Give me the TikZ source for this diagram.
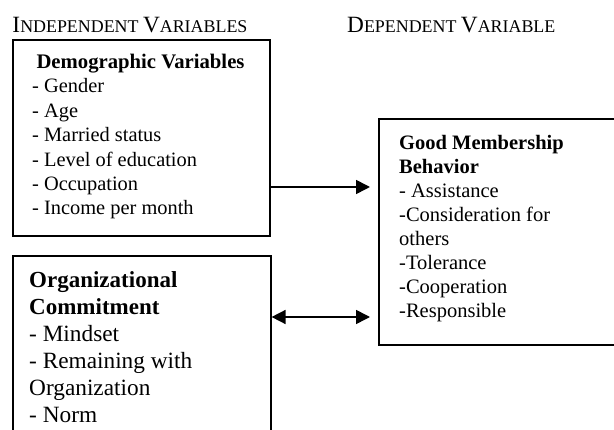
\documentclass[tikz,border=0pt]{standalone}
\usepackage{fontspec}
\setmainfont{Liberation Serif}
\usetikzlibrary{arrows.meta}

\newcommand{\capinit}[1]{{\fontsize{23.3}{27}\selectfont #1}}

\begin{document}
\begin{tikzpicture}[x=1pt, y=-1pt]
	\tikzstyle{box}=[draw=black, line width=1.6pt, anchor=north west, inner sep=0pt]
	\tikzstyle{txt}=[anchor=base west, inner sep=0pt]
	\tikzstyle{arr}=[line width=1.6pt, -{Triangle[length=14pt, width=14pt]}]
	\tikzstyle{arrboth}=[line width=1.6pt, {Triangle[length=14pt, width=14pt]}-{Triangle[length=14pt, width=14pt]}]

	\clip (0,0) rectangle (614,430);
	\fill[white] (0,0) rectangle (614,430);

	% Headers
	\node at (12.3, 32.7) [txt, font=\fontsize{17.9}{27}\selectfont] (indep) {\capinit{I}NDEPENDENT \capinit{V}ARIABLES};
	\node at (347, 32.7) [txt, font=\fontsize{17.9}{27}\selectfont] (dep) {\capinit{D}EPENDENT \capinit{V}ARIABLE};

	% Demographic variables
	\node at (12, 39) [box, minimum width=257pt, minimum height=196pt] (demo) {};
	\node at (140.5, 69) [txt, anchor=base, font=\bfseries\fontsize{20.7}{24}\selectfont] (demo_title) {Demographic Variables};
	\foreach \t [count=\i] in {Gender, Age, Married status, Level of education, Occupation, Income per month}
		\node at (32, 68.6 + \i*24.4) [txt, font=\fontsize{20.4}{24}\selectfont] (demo_\i) {- \t};

	% Organizational commitment
	\node at (12, 255) [box, minimum width=258pt, minimum height=200pt] (org) {};
	\node at (29, 287.7) [txt, font=\bfseries\fontsize{23}{27}\selectfont] (org_title1) {Organizational};
	\node at (29, 314.7) [txt, font=\bfseries\fontsize{23}{27}\selectfont] (org_title2) {Commitment};
	\foreach \t [count=\i] in {- Mindset, - Remaining with, Organization, - Norm}
		\node at (29, 314.7 + \i*27) [txt, font=\fontsize{23.3}{27}\selectfont] (org_\i) {\t};

	% Good membership behavior
	\node at (378, 118) [box, minimum width=250pt, minimum height=226pt] (good) {};
	\node at (399, 150) [txt, font=\bfseries\fontsize{20.5}{24}\selectfont] (good_title1) {Good Membership};
	\node at (399, 174) [txt, font=\bfseries\fontsize{20.5}{24}\selectfont] (good_title2) {Behavior};
	\foreach \t [count=\i] in {- Assistance, -Consideration for, others, -Tolerance, -Cooperation, -Responsible}
		\node at (399, 174 + \i*24) [txt, font=\fontsize{20.5}{24}\selectfont] (good_\i) {\t};

	% Arrows
	\coordinate (row_demo) at (0, 187);
	\coordinate (row_org) at (0, 317);
	\draw [arr] (demo.east |- row_demo) -- ([xshift=-8pt]good.west |- row_demo);
	\draw [arrboth] (org.east |- row_org) -- ([xshift=-8pt]good.west |- row_org);
\end{tikzpicture}
\end{document}
